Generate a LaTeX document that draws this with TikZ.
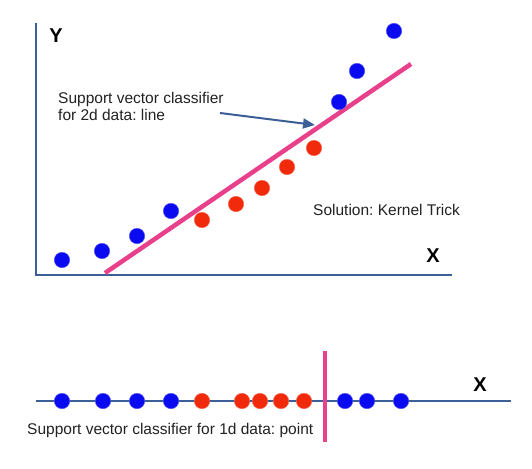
\documentclass[tikz,border=0pt]{standalone}
\usepackage{fontspec}
\setmainfont{Liberation Sans}
\frenchspacing
\usetikzlibrary{arrows.meta}
\definecolor{axisblue}{HTML}{3B5F96}
\definecolor{dotblue}{HTML}{0A0AF0}
\definecolor{dotred}{HTML}{F02A0A}
\definecolor{svcpink}{HTML}{E8408A}
\definecolor{txtgray}{HTML}{222222}
\tikzset{
  bdot/.style={circle, fill=dotblue, draw=dotblue!70!white, line width=0.4pt, minimum size=15.5, inner sep=0},
  rdot/.style={circle, fill=dotred, draw=dotred!70!white, line width=0.4pt, minimum size=15.5, inner sep=0},
  axisline/.style={draw=axisblue, line width=2},
  svcline/.style={draw=svcpink, line width=4.5},
  lbl/.style={text=txtgray, font=\fontsize{15.5}{17}\selectfont, inner sep=0},
  axlbl/.style={text=black, font=\fontsize{20}{22}\selectfont\bfseries, inner sep=0}
}
\begin{document}
\begin{tikzpicture}[x=1pt, y=-1pt]
\useasboundingbox[fill=white] (0,0) rectangle (532,468);
% axes
\coordinate (ytop) at (36,23);
\coordinate (origin) at (36,275);
\coordinate (xend) at (452,275);
\draw[axisline] (ytop) -- (origin) -- (xend);
\node[axlbl] (ylab) at (56,36) {Y};
\node[axlbl] (xlab) at (433,256) {X};
% separating line 2d
\coordinate (svcA) at (105,273);
\coordinate (svcB) at (411,64);
\draw[svcline] (svcA) -- (svcB);
% blue points
\node[bdot] (b1) at (62,260) {};
\node[bdot] (b2) at (102,251) {};
\node[bdot] (b3) at (137,236) {};
\node[bdot] (b4) at (171,211) {};
\node[bdot] (b5) at (339,102) {};
\node[bdot] (b6) at (357,71) {};
\node[bdot] (b7) at (394,31) {};
% red points
\node[rdot] (r1) at (202,220) {};
\node[rdot] (r2) at (236,204) {};
\node[rdot] (r3) at (262,188) {};
\node[rdot] (r4) at (287,167) {};
\node[rdot] (r5) at (314,148) {};
% annotation
\node[lbl, anchor=west, align=left] (ann) at (58,106) {Support vector classifier\\for 2d data: line};
\coordinate (annend) at (315,125);
\draw[axisblue, line width=2, -{Triangle[length=12pt, width=10pt]}] (220,113) -- (annend);
\node[lbl, anchor=west] (sol) at (313,210) {Solution: Kernel Trick};
% 1d line
\coordinate (l1) at (36,401);
\coordinate (l2) at (511,401);
\draw[axisline] (l1) -- (l2);
\node[axlbl] (xlab2) at (480,385) {X};
\coordinate (p1) at (325,351);
\coordinate (p2) at (325,442);
\draw[svcline] (p1) -- (p2);
\foreach \x [count=\i] in {62,103,137,171,345,367,401} {\node[bdot] (lb\i) at (\x,401) {};}
\foreach \x [count=\i] in {202,242,260,281,304} {\node[rdot] (lr\i) at (\x,401) {};}
\node[lbl, anchor=west] (sol1d) at (27,430) {Support vector classifier for 1d data: point};
\end{tikzpicture}
\end{document}
